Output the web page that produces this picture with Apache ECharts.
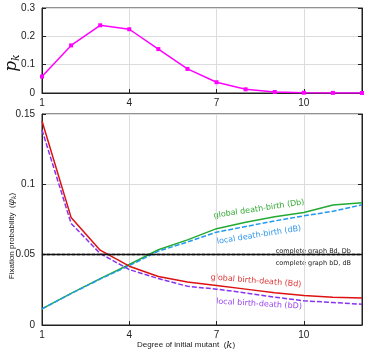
<!DOCTYPE html>
<html><head><meta charset="utf-8">
<script src="https://cdn.jsdelivr.net/npm/echarts@6/dist/echarts.min.js"></script>
<style>html,body{margin:0;padding:0;background:#fff}#c{width:374px;height:353px}</style>
</head><body><div id="c"></div>
<script>
var degrees = ['1','2','3','4','5','6','7','8','9','10','11','12'];
var pk = [0.058, 0.168, 0.239, 0.225, 0.155, 0.085, 0.038, 0.013, 0.0035, 0.001, 0.0004, 0.0001];
var globalBirthDeath = [0.145, 0.0765, 0.0532, 0.0418, 0.0345, 0.0305, 0.0280, 0.0255, 0.0230, 0.0210, 0.0198, 0.0192];
var localBirthDeath  = [0.1387, 0.0722, 0.0508, 0.0394, 0.0330, 0.0275, 0.0255, 0.0228, 0.0198, 0.0172, 0.0160, 0.0147];
var globalDeathBirth = [0.0115, 0.0225, 0.0330, 0.0430, 0.0535, 0.0605, 0.0685, 0.0730, 0.0770, 0.0800, 0.0853, 0.0869];
var localDeathBirth  = [0.0115, 0.0223, 0.0327, 0.0422, 0.0525, 0.0590, 0.0660, 0.0700, 0.0740, 0.0776, 0.0808, 0.0855];
var completeBdDb = 0.0486;
var completebDdB = 0.0476;

var FONT = 'Liberation Sans';
var gridLine = {show:true, lineStyle:{color:'#dcdcdc', width:1}};
function xAx(gi){
  return {type:'category', gridIndex:gi, data:degrees, boundaryGap:false,
    axisLine:{show:true, lineStyle:{color:'#222'}},
    axisTick:{show:true, inside:true, interval:2, length:4, lineStyle:{color:'#222'}},
    axisLabel:{interval:2, color:'#222', fontFamily:FONT, fontSize:10, margin:5},
    splitLine:{show:true, interval:2, lineStyle:{color:'#dcdcdc'}}};
}
function yAx(gi, max, iv, right){
  return {type:'value', gridIndex:gi, min:0, max:max, interval:iv, position: right?'right':'left',
    axisLine:{show:true, lineStyle:{color:'#222'}},
    axisTick:{show:true, inside:true, length:4, lineStyle:{color:'#222'}},
    axisLabel:{show:!right, color:'#222', fontFamily:FONT, fontSize:10, margin:7},
    splitLine: right ? {show:false} : gridLine};
}
var lbl = {fontFamily:'DejaVu Sans', fontSize:8};
var chart = echarts.init(document.getElementById('c'));
chart.setOption({
  animation:false,
  grid:[
    {left:42, right:12, top:8, height:85, show:true, borderColor:'#222', borderWidth:1},
    {left:42, right:12, top:114, height:211, show:true, borderColor:'#222', borderWidth:1}
  ],
  xAxis:[xAx(0), xAx(1)],
  yAxis:[yAx(0,0.3,0.1,false), yAx(1,0.15,0.05,false), yAx(0,0.3,0.1,true), yAx(1,0.15,0.05,true)],
  series:[
    {type:'line', xAxisIndex:0, yAxisIndex:0, data:pk, symbol:'rect', symbolSize:4,
      lineStyle:{color:'#ff00ff', width:1.5}, itemStyle:{color:'#ff00ff'}},
    {type:'line', xAxisIndex:1, yAxisIndex:1, data:globalDeathBirth, symbol:'none',
      lineStyle:{color:'#22aa33', width:1.5}, z:3},
    {type:'line', xAxisIndex:1, yAxisIndex:1, data:localDeathBirth, symbol:'none',
      lineStyle:{color:'#2299ee', width:1.5, type:[5,2]}, z:4},
    {type:'line', xAxisIndex:1, yAxisIndex:1, data:globalBirthDeath, symbol:'none',
      lineStyle:{color:'#dd1111', width:1.5}, z:3,
      markLine:{silent:true, symbol:'none', label:{show:false},
        data:[{yAxis:completeBdDb, lineStyle:{color:'#111', width:1.3, type:'solid'}},
              {yAxis:completebDdB, lineStyle:{color:'#111', width:1.3, type:[3,2]}}]}},
    {type:'line', xAxisIndex:1, yAxisIndex:1, data:localBirthDeath, symbol:'none',
      lineStyle:{color:'#8833ee', width:1.5, type:[5,2]}, z:4}
  ],
  graphic:[
    {type:'text', x:12, y:63, rotation:Math.PI/2, style:{text:'{p|p}{k|k}', align:'center', verticalAlign:'middle',
      rich:{p:{fontFamily:'DejaVu Serif', fontStyle:'italic', fontSize:17, fill:'#111'},
            k:{fontFamily:'DejaVu Serif', fontStyle:'italic', fontSize:11, fill:'#111', padding:[8,0,0,0]}}}},
    {type:'text', x:12, y:236, rotation:Math.PI/2, style:{text:'Fixation probability  ({i|φ}{s|k})', align:'center', verticalAlign:'middle',
      fontFamily:FONT, fontSize:8, fill:'#222',
      rich:{i:{fontFamily:'DejaVu Serif', fontStyle:'italic', fontSize:9, fill:'#222'},
            s:{fontFamily:'DejaVu Serif', fontStyle:'italic', fontSize:6, fill:'#222', padding:[4,0,0,0]}}}},
    {type:'text', x:186, y:345, style:{text:'Degree of initial mutant  ({i|k})', align:'center', verticalAlign:'middle',
      fontFamily:FONT, fontSize:8, fill:'#222',
      rich:{i:{fontFamily:'DejaVu Serif', fontStyle:'italic', fontSize:10, fill:'#222'}}}},
    {type:'text', x:259, y:209, rotation:0.15, style:Object.assign({text:'global death-birth (Db)', align:'center', verticalAlign:'middle', fill:'#33aa33'}, lbl)},
    {type:'text', x:259, y:235, rotation:0.16, style:Object.assign({text:'local death-birth (dB)', align:'center', verticalAlign:'middle', fill:'#3399ee'}, lbl)},
    {type:'text', x:256, y:281, rotation:-0.08, style:Object.assign({text:'global birth-death (Bd)', align:'center', verticalAlign:'middle', fill:'#dd3333'}, lbl)},
    {type:'text', x:259, y:304, rotation:-0.06, style:Object.assign({text:'local birth-death (bD)', align:'center', verticalAlign:'middle', fill:'#9944ee'}, lbl)},
    {type:'text', x:351, y:251, style:{text:'complete graph Bd, Db', align:'right', verticalAlign:'middle', fontFamily:'DejaVu Sans', fontSize:6.5, fill:'#222'}},
    {type:'text', x:351, y:263, style:{text:'complete graph bD, dB', align:'right', verticalAlign:'middle', fontFamily:'DejaVu Sans', fontSize:6.5, fill:'#222'}}
  ]
});
</script></body></html>
